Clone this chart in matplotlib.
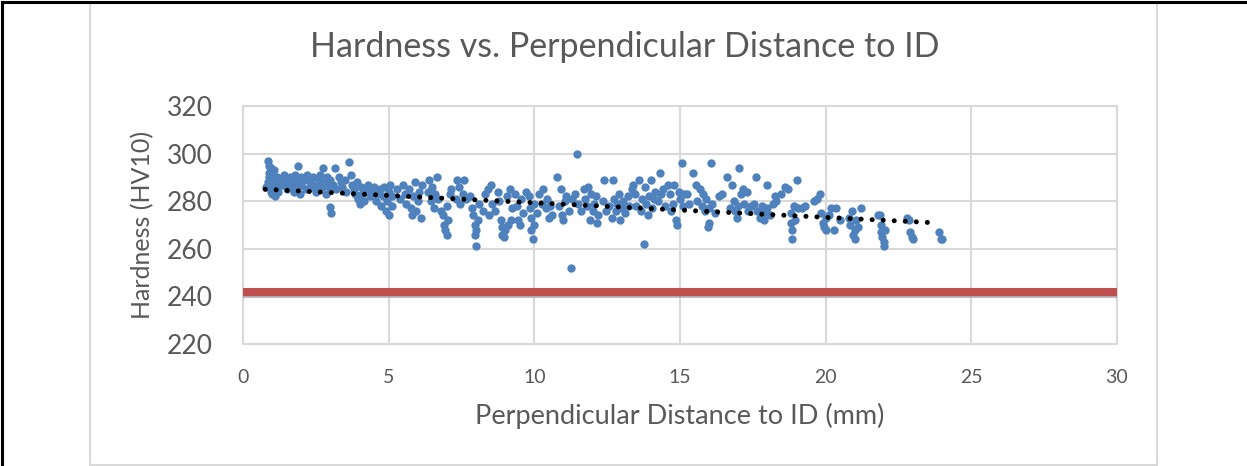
import matplotlib.pyplot as plt
import matplotlib.patheffects as pe
from matplotlib.patches import Rectangle
from matplotlib.lines import Line2D

plt.rcParams['font.family'] = ['Lato', 'DejaVu Sans']

# odleglosc od ID [mm] i twardosc HV10
dist_mm = [
    0.85, 0.9, 0.88, 0.9, 0.85, 0.92, 0.95, 1.0, 1.0, 1.05, 1.05, 1.1, 1.1, 1.15, 1.2, 0.8, 0.95, 1.2, 1.0, 1.15,
    1.3, 1.35, 1.4, 1.5, 1.5, 1.6, 1.65, 1.7, 1.75, 1.8, 1.85, 1.9, 1.9, 1.95, 2.0, 2.0,
    2.1, 2.15, 2.2, 2.3, 2.35, 2.4, 2.5, 2.5, 2.6, 2.65, 2.7, 2.76, 2.8, 2.85, 2.9, 2.95, 3.0, 3.02, 3.0,
    3.1, 3.16, 3.2, 3.3, 3.35, 3.4, 3.5, 3.55, 3.65, 3.7, 3.75, 3.8, 3.85, 3.9, 3.95, 4.0,
    4.05, 4.1, 4.15, 4.2, 4.3, 4.35, 4.4, 4.5, 4.55, 4.6, 4.7, 4.75, 4.8, 4.85, 4.9, 4.95, 5.0, 5.0, 5.05, 5.1, 5.1,
    5.3, 5.4, 5.5, 5.55, 5.6, 5.7, 5.75, 5.8, 5.85, 5.9, 5.95, 6.0, 6.05, 6.1, 6.15,
    6.35, 6.4, 6.45, 6.5, 6.55, 6.6, 6.65, 6.7, 6.8, 6.85, 6.9, 6.95, 7.0, 7.0, 7.05, 7.1, 7.15,
    7.3, 7.35, 7.4, 7.45, 7.55, 7.6, 7.65, 7.8, 7.85, 7.9, 7.95, 7.95, 8.0, 8.0, 8.05, 8.1,
    8.25, 8.3, 8.4, 8.45, 8.5, 8.55, 8.65, 8.75, 8.8, 8.85, 8.9, 8.9, 8.95, 9.0, 9.05, 9.1, 9.15, 9.2, 9.25,
    9.35, 9.4, 9.45, 9.5, 9.55, 9.6, 9.7, 9.8, 9.85, 9.9, 9.9, 9.95, 10.0, 10.0, 10.1, 10.15,
    10.25, 10.3, 10.4, 10.45, 10.5, 10.55, 10.6, 10.77, 10.85, 10.9, 10.95, 11.0, 11.05, 11.1, 11.2, 11.25, 11.3,
    11.46, 11.4, 11.5, 11.6, 11.7, 11.75, 11.8, 11.85, 11.9, 11.95, 12.0, 12.05, 12.1, 12.15, 12.2,
    12.35, 12.4, 12.45, 12.55, 12.65, 12.7, 12.75, 12.8, 12.85, 12.9, 12.95, 13.0, 13.05, 13.1, 13.2, 13.25,
    13.35, 13.4, 13.45, 13.5, 13.6, 13.65, 13.7, 13.77, 13.8, 13.85, 13.9, 13.95, 14.0, 14.05, 14.1, 14.15,
    14.3, 14.25, 14.35, 14.4, 14.5, 14.6, 14.65, 14.7, 14.75, 14.8, 14.85, 14.9, 14.95, 15.0, 15.08, 15.1, 15.15, 15.25, 15.3,
    15.45, 15.55, 15.6, 15.7, 15.75, 15.8, 15.85, 15.9, 15.95, 16.0, 16.0, 16.05, 16.1, 16.2, 16.35, 16.45,
    16.6, 16.7, 16.8, 16.85, 16.9, 16.95, 17.04, 17.0, 17.1, 17.15, 17.2, 17.3, 17.35, 17.45,
    17.6, 17.55, 17.65, 17.75, 17.8, 17.85, 17.9, 18.0, 18.0, 18.1, 18.2, 18.25, 18.3,
    18.45, 18.6, 18.7, 18.8, 18.8, 18.85, 18.85, 18.9, 18.95, 19.0, 19.05, 19.2, 19.3,
    19.6, 19.7, 19.8, 19.85, 19.9, 19.95, 20.0, 20.0, 20.1, 20.2, 20.35, 20.3, 20.5,
    20.8, 20.85, 20.9, 20.95, 21.0, 21.0, 21.05, 21.1, 21.2,
    21.8, 21.85, 21.9, 21.9, 21.95, 22.0, 22.0, 22.05,
    22.8, 22.85, 22.9, 22.95, 23.0,
    23.9, 23.95, 24.0,
]
hardness_hv = [
    297, 295, 292, 290, 288, 286, 284, 289, 291, 287, 293, 285, 282, 290, 288, 286, 294, 284, 283, 286,
    289, 287, 291, 288, 285, 290, 287, 289, 284, 291, 288, 295, 286, 283, 290, 287,
    289, 285, 291, 288, 286, 290, 287, 284, 289, 291, 286, 294, 288, 283, 290, 286, 277.7, 275, 289,
    287, 294, 285, 290, 288, 286, 289, 284, 296.3, 291, 287, 285, 283, 288, 281, 279,
    286, 283, 280, 285, 287, 282, 284, 286, 280, 283, 285, 278, 282, 286, 276, 280, 284, 274, 287, 278, 282,
    285, 281, 287, 283, 279, 285, 277, 274, 282, 288, 276, 280, 284, 273, 287,
    284, 289, 280, 286, 277, 283, 290, 281, 276, 274, 270, 268, 266, 278, 272, 283, 285,
    281, 289, 286, 279, 283, 289, 281, 282, 277, 274, 270, 266, 261, 268, 272, 279,
    276, 283, 285, 274, 287, 279, 276, 284, 280, 272, 269, 266, 265, 268, 282, 270, 285, 272, 277,
    283, 278, 272, 270, 281, 275, 284, 282, 277, 273, 268, 264, 270, 279, 275, 283,
    279, 285, 277, 281, 273, 278, 274, 290, 278, 285, 274, 272, 280, 282, 276, 251.8, 281,
    300, 283, 279, 276, 285, 281, 278, 286, 272, 283, 276, 279, 282, 271, 274,
    280, 289, 276, 278, 273, 289, 281, 276, 279, 283, 272, 277, 280, 275, 282, 278,
    285, 287, 283, 278, 289, 276, 281, 262, 286, 279, 274, 282, 289, 277, 281, 284,
    292, 280, 283, 285, 278, 287, 283, 276, 279, 287, 272, 270, 284, 281, 296, 278, 283, 283, 279,
    292, 287, 280, 285, 278, 283, 276, 281, 269, 271, 277, 296, 279, 275, 282, 283,
    290, 277, 287, 280, 276, 273, 294, 278, 283, 285, 279, 284, 276, 278,
    290, 279, 276, 273, 278, 275, 272, 277, 287, 274, 279, 282, 280,
    283, 286, 285, 275, 271, 268, 264, 278, 272, 289, 277, 277, 278,
    280, 281, 283, 275, 271, 269, 273, 268, 274, 277, 277, 268, 272,
    273, 270, 276, 266, 264, 268, 272, 269, 277,
    274, 274, 270, 267, 265, 263, 261, 268,
    273, 272, 267, 265, 264,
    267, 264, 264,
]

# linia trendu (punkty koncowe)
trend_x = [0.76, 23.64]
trend_y = [285, 271]

# limit twardosci
limit_x = [0, 30]
limit_y = [242, 242]

gray_txt = '#595959'
grid_c = '#D9D9D9'

fig = plt.figure(figsize=(12.47, 4.66), dpi=100)

# ramka wykresu (jak w Excelu) i czarne linie od strony dokumentu
fig.patches.append(Rectangle((90 / 1247, 1 - 465 / 466), (1157 - 90) / 1247, (465 - 3) / 466,
                             transform=fig.transFigure, fill=False, edgecolor=grid_c, linewidth=1.5))
fig.lines.append(Line2D([2 / 1247, 2 / 1247], [0, 1 - 2 / 466], transform=fig.transFigure,
                        color='black', linewidth=2.2))
fig.lines.append(Line2D([2 / 1247, 1], [1 - 2 / 466, 1 - 2 / 466], transform=fig.transFigure,
                        color='black', linewidth=2.2))

ax = fig.add_axes([243 / 1247, 1 - 344 / 466, (1117 - 243) / 1247, (344 - 106) / 466])

ax.scatter(dist_mm, hardness_hv, s=36, color='#4F81BD', linewidths=0, zorder=3)
ax.plot(trend_x, trend_y, color='black', linewidth=3.6, linestyle=(0, (0.01, 2.2)),
        dash_capstyle='round', zorder=4)
ax.plot(limit_x, limit_y, color='#C0504D', linewidth=5.8, solid_capstyle='butt', zorder=5,
        clip_on=False,
        path_effects=[pe.SimpleLineShadow(offset=(0, -1.5), shadow_color='gray', alpha=0.5), pe.Normal()])

ax.set_xlim(0, 30)
ax.set_ylim(220, 320)
ax.set_xticks(range(0, 31, 5))
ax.set_yticks(range(220, 321, 20))
ax.grid(color=grid_c, linewidth=1.5)
ax.set_axisbelow(True)
for s in ax.spines.values():
    s.set_color(grid_c)
    s.set_linewidth(1.5)
ax.tick_params(length=0, colors=gray_txt)
ax.tick_params(axis='y', labelsize=19, pad=22)
ax.tick_params(axis='x', labelsize=14, pad=18)

fig.text(625 / 1247, 1 - 47 / 466, 'Hardness vs. Perpendicular Distance to ID', fontsize=24.5,
         color=gray_txt, ha='center', va='center')
ax.set_xlabel('Perpendicular Distance to ID (mm)', fontsize=19.5, color=gray_txt, labelpad=12)
ax.set_ylabel('Hardness (HV10)', fontsize=18, color=gray_txt, labelpad=9)

plt.savefig('out.png', dpi=100)
